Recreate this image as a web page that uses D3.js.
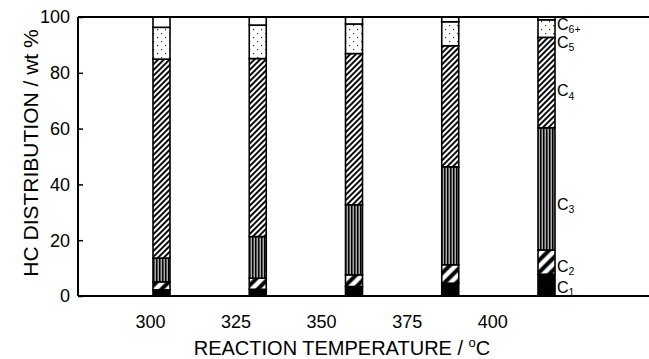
<!DOCTYPE html>
<html>
<head>
<meta charset="utf-8">
<script src="https://cdn.jsdelivr.net/npm/d3@7"></script>
<style>
  body { margin: 0; background: #fff; }
  svg { display: block; font-family: "Liberation Sans", Arial, sans-serif; }
</style>
</head>
<body>
<svg id="chart" width="649" height="359"></svg>
<script>
// temperatures (bar categories) and tick labels
var temps = ["300", "325", "350", "375", "400"];
var yTicks = [0, 20, 40, 60, 80, 100];
// product fractions, wt % (C1 at bottom)
var c1 = [2.2, 2.4, 3.4, 4.6, 7.8];
var c2 = [2.9, 4.0, 4.2, 6.6, 8.7];
var c3 = [8.5, 14.9, 25.1, 35.1, 43.8];
var c4 = [71.3, 63.8, 54.2, 43.4, 32.4];
var c5 = [11.4, 12.0, 10.6, 8.6, 6.3];
var c6 = [3.7, 2.9, 2.5, 1.7, 1.0];
var keys = ["C1", "C2", "C3", "C4", "C5", "C6"];
var subs = ["1", "2", "3", "4", "5", "6+"];
// where the right-side labels sit (in wt %)
var labelPos = [2.9, 10.4, 32.7, 73.4, 90.7, 97.2];

var rows = temps.map(function (t, i) {
    return {t: t, C1: c1[i], C2: c2[i], C3: c3[i], C4: c4[i], C5: c5[i], C6: c6[i]};
});

var svg = d3.select("#chart");
var pLeft = 78, pRight = 649, pTop = 17, pBottom = 296;

var y = d3.scaleLinear().domain([0, 100]).range([pBottom, pTop]);
var xBar = d3.scalePoint().domain(temps).range([161.5, 546.5]);
var xLab = d3.scalePoint().domain(temps).range([150.5, 492.7]);
var barW = 17;

// patterns
var defs = svg.append("defs");
function hatch(id, size, sw) {
    var p = defs.append("pattern").attr("id", id).attr("patternUnits", "userSpaceOnUse")
        .attr("width", size).attr("height", size).attr("patternTransform", "rotate(45)");
    p.append("rect").attr("width", size).attr("height", size).attr("fill", "#fff");
    p.append("line").attr("x1", size / 2).attr("x2", size / 2).attr("y1", 0).attr("y2", size)
        .attr("stroke", "#000").attr("stroke-width", sw);
}
hatch("pC4", 4, 1.9);
hatch("pC2", 8.5, 4);
var pv = defs.append("pattern").attr("id", "pC3").attr("patternUnits", "userSpaceOnUse")
    .attr("width", 3).attr("height", 10);
pv.append("rect").attr("width", 3).attr("height", 10).attr("fill", "#aaa");
pv.append("rect").attr("x", 0).attr("width", 1.5).attr("height", 10).attr("fill", "#000");
var pd = defs.append("pattern").attr("id", "pC5").attr("patternUnits", "userSpaceOnUse")
    .attr("width", 8).attr("height", 8);
pd.append("rect").attr("width", 8).attr("height", 8).attr("fill", "#fff");
pd.append("rect").attr("x", 1).attr("y", 1).attr("width", 1.2).attr("height", 1.2).attr("fill", "#333");
pd.append("rect").attr("x", 5).attr("y", 5).attr("width", 1.2).attr("height", 1.2).attr("fill", "#333");

var fills = {C1: "#000", C2: "url(#pC2)", C3: "url(#pC3)", C4: "url(#pC4)", C5: "url(#pC5)", C6: "#fff"};

var series = d3.stack().keys(keys)(rows);

svg.append("g").selectAll("g").data(series).join("g")
    .attr("fill", function (d) { return fills[d.key]; })
    .selectAll("rect").data(function (d) { return d; }).join("rect")
    .attr("x", function (d) { return xBar(d.data.t) - barW / 2; })
    .attr("width", barW)
    .attr("y", function (d) { return y(d[1]); })
    .attr("height", function (d) { return y(d[0]) - y(d[1]); })
    .attr("stroke", "#000").attr("stroke-width", 1.6);

// frame: left axis, top and bottom lines
svg.append("line").attr("x1", pLeft).attr("x2", pRight).attr("y1", pTop).attr("y2", pTop)
    .attr("stroke", "#000").attr("stroke-width", 2);
svg.append("line").attr("x1", pLeft).attr("x2", pRight).attr("y1", pBottom).attr("y2", pBottom)
    .attr("stroke", "#000").attr("stroke-width", 2);

var yAxis = svg.append("g").attr("transform", "translate(" + pLeft + ",0)")
    .call(d3.axisRight(y).tickValues(yTicks).tickSize(5).tickFormat(""));
yAxis.select(".domain").attr("stroke-width", 2).attr("d", "M0," + pTop + "V" + pBottom);
yAxis.selectAll(".tick line").attr("stroke-width", 1.5);

svg.append("g").selectAll("text").data(yTicks).join("text")
    .attr("x", 70).attr("y", function (d) { return y(d); })
    .attr("dy", "0.36em").attr("text-anchor", "end")
    .attr("font-size", 18).text(function (d) { return d; });

svg.append("g").selectAll("text").data(temps).join("text")
    .attr("x", function (d) { return xLab(d); }).attr("y", 328)
    .attr("text-anchor", "middle").attr("font-size", 18).text(function (d) { return d; });

// axis titles
var xt = svg.append("text").attr("x", 342).attr("y", 355).attr("text-anchor", "middle")
    .attr("font-size", 20);
xt.append("tspan").text("REACTION TEMPERATURE / ");
xt.append("tspan").attr("font-size", 13).attr("dy", -8).text("o");
xt.append("tspan").attr("dy", 8).text("C");

svg.append("text").attr("transform", "translate(38,153) rotate(-90)")
    .attr("text-anchor", "middle").attr("font-size", 21)
    .text("HC DISTRIBUTION / wt %");

// right-side labels
var lab = svg.append("g").selectAll("text").data(keys).join("text")
    .attr("x", 557).attr("y", function (d, i) { return y(labelPos[i]) + 5; })
    .attr("font-size", 16);
lab.append("tspan").text("C");
lab.append("tspan").attr("font-size", 10.5).attr("dy", 3.5).text(function (d, i) { return subs[i]; });
</script>
</body>
</html>
